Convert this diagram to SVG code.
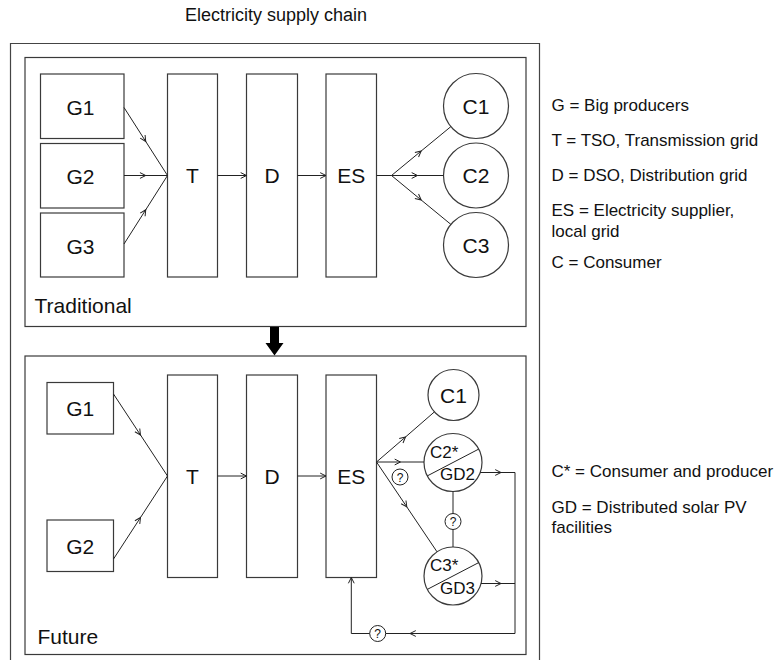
<svg xmlns="http://www.w3.org/2000/svg" width="777" height="660" viewBox="0 0 777 660">
<style>
text{font-family:"Liberation Sans",Arial,sans-serif;fill:#111}
.box{fill:#fff;stroke:#3a3a3a;stroke-width:1.2}
.frame{fill:none;stroke:#444;stroke-width:1.2}
.lbl{font-size:21px;text-anchor:middle}
.sm{font-size:17px}
.leg{font-size:17px}
.q{font-size:12px;text-anchor:middle}
.qc{fill:#fff;stroke:#222;stroke-width:1}
.ln{fill:none;stroke:#222;stroke-width:1}
.mid{marker-mid:url(#ah)}
.end{marker-end:url(#ah)}
</style>
<defs>
<marker id="ah" markerUnits="userSpaceOnUse" markerWidth="9" markerHeight="9" viewBox="0 0 9 9" refX="7" refY="4.5" orient="auto">
<path d="M1.2,1.6 L7,4.5 L1.2,7.4" fill="none" stroke="#222" stroke-width="1"/>
</marker>
</defs>

<text x="276" y="21" font-size="18" text-anchor="middle">Electricity supply chain</text>
<path class="frame" d="M10.5,670 V43.5 H539.5 V670"/>

<!-- Traditional panel -->
<g id="traditional">
<rect class="box" x="25" y="57.5" width="501" height="269"/>
<text x="34.5" y="313" font-size="21">Traditional</text>
</g>
<g id="t-g1"><rect class="box" x="40.5" y="74" width="83.5" height="64.5"/><text class="lbl" x="80.5" y="115">G1</text></g>
<g id="t-g2"><rect class="box" x="40.5" y="143.5" width="83.5" height="64.5"/><text class="lbl" x="80.5" y="184">G2</text></g>
<g id="t-g3"><rect class="box" x="40.5" y="213" width="83.5" height="64"/><text class="lbl" x="80.5" y="253.5">G3</text></g>
<g id="t-t"><rect class="box" x="167.5" y="74" width="50" height="203"/><text class="lbl" x="192.5" y="183">T</text></g>
<g id="t-d"><rect class="box" x="246.5" y="74" width="51" height="203"/><text class="lbl" x="272" y="183">D</text></g>
<g id="t-es"><rect class="box" x="326" y="74" width="50.5" height="203"/><text class="lbl" x="351.3" y="183">ES</text></g>
<g id="t-c1"><circle class="box" cx="476" cy="106" r="32.5"/><text class="lbl" x="476" y="113.5">C1</text></g>
<g id="t-c2"><circle class="box" cx="476" cy="175.5" r="32.5"/><text class="lbl" x="476" y="183">C2</text></g>
<g id="t-c3"><circle class="box" cx="476" cy="245" r="32.5"/><text class="lbl" x="476" y="252.5">C3</text></g>

<!-- Future panel -->
<g id="future">
<rect class="box" x="25" y="356" width="501" height="298.5"/>
<text x="37.5" y="644" font-size="21">Future</text>
</g>
<g id="f-g1"><rect class="box" x="47" y="382.5" width="66.5" height="51.5"/><text class="lbl" x="80.3" y="416">G1</text></g>
<g id="f-g2"><rect class="box" x="47" y="520" width="66.5" height="51.5"/><text class="lbl" x="80.3" y="553.5">G2</text></g>
<g id="f-t"><rect class="box" x="167.5" y="375" width="50" height="202.5"/><text class="lbl" x="192.5" y="483.5">T</text></g>
<g id="f-d"><rect class="box" x="246.5" y="375" width="51" height="202.5"/><text class="lbl" x="272" y="483.5">D</text></g>
<g id="f-es"><rect class="box" x="326" y="375" width="50.5" height="202.5"/><text class="lbl" x="351.3" y="483.5">ES</text></g>
<g id="f-c1"><circle class="box" cx="453.5" cy="395" r="25.5"/><text class="lbl" x="453.5" y="402.5">C1</text></g>
<g id="f-c2"><circle class="box" cx="453" cy="462.5" r="29"/><line class="ln" x1="427.3" y1="475.9" x2="478.7" y2="449.1"/><text class="sm" x="430" y="457.5">C2*</text><text class="sm" x="440" y="480">GD2</text></g>
<g id="f-c3"><circle class="box" cx="453" cy="576" r="29"/><line class="ln" x1="427.3" y1="589.4" x2="478.7" y2="562.6"/><text class="sm" x="430" y="571">C3*</text><text class="sm" x="440" y="593.5">GD3</text></g>

<!-- connectors -->
<g id="connectors">
<polyline class="ln mid" points="124,107.5 145.75,141.5 167.5,175.5"/>
<polyline class="ln mid" points="124,175.5 145.75,175.5 167.5,175.5"/>
<polyline class="ln mid" points="124,244 145.75,209.75 167.5,175.5"/>
<line class="ln end" x1="217.5" y1="175.5" x2="246.5" y2="175.5"/>
<line class="ln end" x1="297.5" y1="175.5" x2="326" y2="175.5"/>
<line class="ln" x1="376.5" y1="175.5" x2="391.5" y2="175.5"/>
<polyline class="ln mid" points="391.5,175.5 421.2,151 450.9,126.6"/>
<polyline class="ln mid" points="391.5,175.5 417.5,175.5 443.5,175.5"/>
<polyline class="ln mid" points="391.5,175.5 421.2,200 450.9,224.4"/>

<polygon points="270,327 279,327 279,343 283.5,343 274.5,355.5 265.5,343 270,343" fill="#000"/>

<polyline class="ln mid" points="113.5,394 140.5,435 167.5,476"/>
<polyline class="ln mid" points="113.5,559 140.5,517.5 167.5,476"/>
<line class="ln end" x1="217.5" y1="476" x2="246.5" y2="476"/>
<line class="ln end" x1="297.5" y1="476" x2="326" y2="476"/>
<polyline class="ln mid" points="376.5,462 405.5,437 434.4,411.9"/>
<polyline class="ln mid" points="376.5,462 400.5,462 424,462"/>
<polyline class="ln mid" points="376.5,462 406.8,506.9 437,551.8"/>
<polyline class="ln mid" points="480.2,472.5 501,472.5 515,472.5"/>
<polyline class="ln mid" points="481,583.5 501,583.5 515,583.5"/>
<polyline class="ln" points="515,472.5 515,633.5"/>
<polyline class="ln mid" points="515,633.5 410,633.5 351.3,633.5"/>
<polyline class="ln end" points="351.3,633.5 351.3,577.5"/>
<line class="ln" x1="453" y1="491.5" x2="453" y2="547"/>
<circle class="qc" cx="400" cy="477" r="8"/><text class="q" x="400" y="481.5">?</text>
<circle class="qc" cx="453" cy="521.5" r="8"/><text class="q" x="453" y="526">?</text>
<circle class="qc" cx="377.7" cy="633.5" r="8"/><text class="q" x="377.7" y="638">?</text>
</g>

<!-- legend -->
<g id="legend">
<text class="leg" x="551.5" y="111">G = Big producers</text>
<text class="leg" x="551.5" y="146">T = TSO, Transmission grid</text>
<text class="leg" x="551.5" y="181">D = DSO, Distribution grid</text>
<text class="leg" x="551.5" y="216">ES = Electricity supplier,</text>
<text class="leg" x="551.5" y="236.5">local grid</text>
<text class="leg" x="551.5" y="268">C = Consumer</text>
<text class="leg" x="551.5" y="477">C* = Consumer and producer</text>
<text class="leg" x="551.5" y="513">GD = Distributed solar PV</text>
<text class="leg" x="551.5" y="532.5">facilities</text>
</g>
</svg>
